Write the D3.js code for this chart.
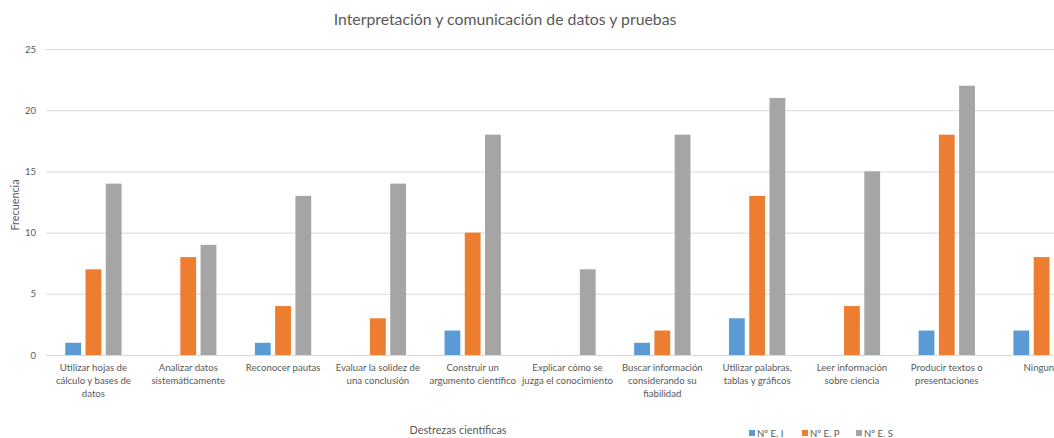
<!DOCTYPE html>
<html><head><meta charset="utf-8">
<script src="https://cdn.jsdelivr.net/npm/d3@7"></script>
<style>
html,body{margin:0;padding:0;background:#fff;overflow:hidden;}
text{font-family:Lato,"Open Sans",sans-serif;}
</style></head>
<body>
<svg id="chart" width="1054" height="438"></svg>
<script>
const categories = [
  "Utilizar hojas de cálculo y bases de datos",
  "Analizar datos sistemáticamente",
  "Reconocer pautas",
  "Evaluar la solidez de una conclusión",
  "Construir un argumento científico",
  "Explicar cómo se juzga el conocimiento",
  "Buscar información considerando su fiabilidad",
  "Utilizar palabras, tablas y gráficos",
  "Leer información sobre ciencia",
  "Producir textos o presentaciones",
  "Ninguno"
];
const categoryLines = [
  ["Utilizar hojas de", "cálculo y bases de", "datos"],
  ["Analizar datos", "sistemáticamente"],
  ["Reconocer pautas"],
  ["Evaluar la solidez de", "una conclusión"],
  ["Construir un", "argumento científico"],
  ["Explicar cómo se", "juzga el conocimiento"],
  ["Buscar información", "considerando su", "fiabilidad"],
  ["Utilizar palabras,", "tablas y gráficos"],
  ["Leer información", "sobre ciencia"],
  ["Producir textos o", "presentaciones"],
  ["Ninguno"]
];
const seriesNames = ["Nº E. I", "Nº E. P", "Nº E. S"];
const seriesEI = [1, 0, 1, 0, 2, 0, 1, 3, 0, 2, 2];
const seriesEP = [7, 8, 4, 3, 10, 0, 2, 13, 4, 18, 8];
const seriesES = [14, 9, 13, 14, 18, 7, 18, 21, 15, 22, 4];
const yTicks = [0, 5, 10, 15, 20, 25];
const colors = ["#5B9BD5", "#ED7D31", "#A5A5A5"];

const svg = d3.select("#chart");
const plotLeft = 46, plotRight = 1089, plotTop = 49, plotBottom = 355;

const x = d3.scaleBand().domain(categories).range([plotLeft, plotRight]).paddingInner(0).paddingOuter(0);
const x1 = d3.scaleBand().domain(seriesNames).range([0, x.bandwidth()]).paddingInner(0.22).paddingOuter(0.95);
const y = d3.scaleLinear().domain([0, 25]).range([plotBottom, plotTop]);

// title
svg.append("text").attr("x", 505).attr("y", 25).attr("text-anchor", "middle")
  .attr("font-size", 15.8).attr("fill", "#595959").text("Interpretación y comunicación de datos y pruebas");

// gridlines
const yAxis = d3.axisLeft(y).tickValues(yTicks).tickSize(-(plotRight - plotLeft)).tickPadding(10);
const gy = svg.append("g").attr("transform", `translate(${plotLeft},0)`).call(yAxis);
gy.select(".domain").remove();
gy.selectAll(".tick line").attr("stroke", "#D9D9D9").attr("stroke-width", 1);
gy.selectAll(".tick text").attr("font-size", 9.5).attr("fill", "#595959").attr("font-family", "Lato,sans-serif");

// bars
const data = categories.map((c, i) => ({c, vals: [seriesEI[i], seriesEP[i], seriesES[i]]}));
const groups = svg.append("g").selectAll("g").data(data).join("g")
  .attr("transform", d => `translate(${x(d.c)},0)`);
groups.selectAll("rect").data(d => d.vals.map((v, k) => ({v, k})).filter(e => e.v > 0)).join("rect")
  .attr("x", e => x1(seriesNames[e.k]))
  .attr("width", x1.bandwidth())
  .attr("y", e => y(e.v))
  .attr("height", e => y(0) - y(e.v))
  .attr("fill", e => colors[e.k]);

// baseline
svg.append("line").attr("x1", plotLeft).attr("x2", plotRight).attr("y1", y(0) + 0.5).attr("y2", y(0) + 0.5)
  .attr("stroke", "#D9D9D9");

// category labels
const xAxis = d3.axisBottom(x).tickSize(0).tickFormat("");
const gx = svg.append("g").attr("transform", `translate(0,${plotBottom})`).call(xAxis);
gx.select(".domain").remove();
gx.selectAll(".tick").each(function(d, i) {
  const t = d3.select(this).append("text").attr("text-anchor", "middle").attr("font-size", 9.6)
    .attr("fill", "#595959").attr("y", 16);
  categoryLines[i].forEach((ln, j) => {
    t.append("tspan").attr("x", 0).attr("dy", j === 0 ? 0 : 13).text(ln);
  });
});

// axis titles
svg.append("text").attr("x", 458).attr("y", 434).attr("text-anchor", "middle").attr("font-size", 10.8)
  .attr("fill", "#595959").text("Destrezas científicas");
svg.append("text").attr("transform", "translate(19,205) rotate(-90)").attr("text-anchor", "middle")
  .attr("font-size", 10.8).attr("fill", "#595959").text("Frecuencia");

// legend
const legX = [749, 802, 856];
const leg = svg.append("g").selectAll("g").data(seriesNames).join("g")
  .attr("transform", (d, i) => `translate(${legX[i]},433)`);
leg.append("rect").attr("x", 0).attr("y", -3).attr("width", 6).attr("height", 6).attr("fill", (d, i) => colors[i]);
leg.append("text").attr("x", 8).attr("y", 3.5).attr("font-size", 9.5).attr("fill", "#595959").text(d => d);
</script>
</body></html>
